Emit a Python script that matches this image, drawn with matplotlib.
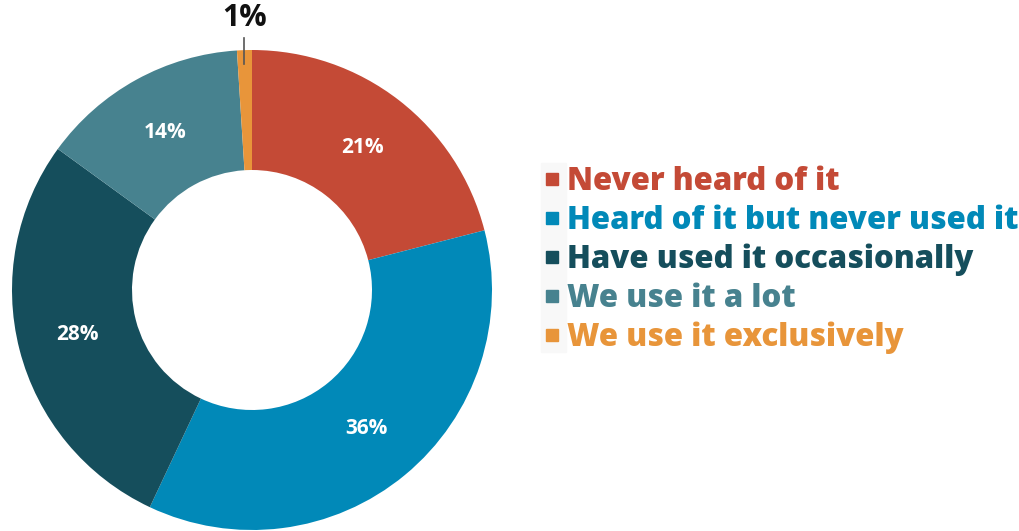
import matplotlib.pyplot as plt
from matplotlib.lines import Line2D
from matplotlib.patches import Rectangle
import numpy as np

# Survey answers
labels = ['Never heard of it', 'Heard of it but never used it',
          'Have used it occasionally', 'We use it a lot', 'We use it exclusively']
shares = [21, 36, 28, 14, 1]
colors = ['#C44A36', '#0189B8', '#154E5C', '#47828F', '#E8953A']

plt.rcParams['font.family'] = ['Open Sans', 'DejaVu Sans']

fig = plt.figure(figsize=(10.2, 5.31), dpi=100)
ax = fig.add_axes([12 / 1020, 1 / 531, 480 / 1020, 480 / 531])

wedges, _ = ax.pie(shares, colors=colors, startangle=90, counterclock=False,
                   radius=1, wedgeprops=dict(width=0.5, edgecolor='none'))
ax.set_xlim(-1, 1)
ax.set_ylim(-1, 1)
ax.set_aspect('equal')

for w, v in zip(wedges, shares):
    ang = np.deg2rad((w.theta1 + w.theta2) / 2)
    if v < 5:
        x = np.cos(ang)
        ax.plot([x, x], [0.94, 1.05], color='#555555', lw=1.2, clip_on=False)
        ax.text(x, 1.135, f'{v}%', ha='center', va='center', fontsize=22,
                fontweight='bold', color='#111111', clip_on=False)
    else:
        ax.text(0.75 * np.cos(ang), 0.75 * np.sin(ang), f'{v}%', ha='center',
                va='center', fontsize=15, fontweight='bold', color='white')

# faint strip behind the legend markers
fig.patches.append(Rectangle((541 / 1020, 1 - 352 / 531), 25 / 1020, 189 / 531,
                             transform=fig.transFigure, color='#f8f8f8', zorder=0))

handles = [Line2D([], [], marker='s', ls='none', color=c, markersize=9) for c in colors]
leg = fig.legend(handles, labels, loc='center left', bbox_to_anchor=(531 / 1020, 1 - 260 / 531),
                 frameon=False, prop=dict(size=22.5, weight=800), handlelength=0.55,
                 handletextpad=0.2, labelspacing=0.21, borderaxespad=0)
for t, c in zip(leg.get_texts(), colors):
    t.set_color(c)

fig.savefig('out.png', dpi=100, facecolor='white')
